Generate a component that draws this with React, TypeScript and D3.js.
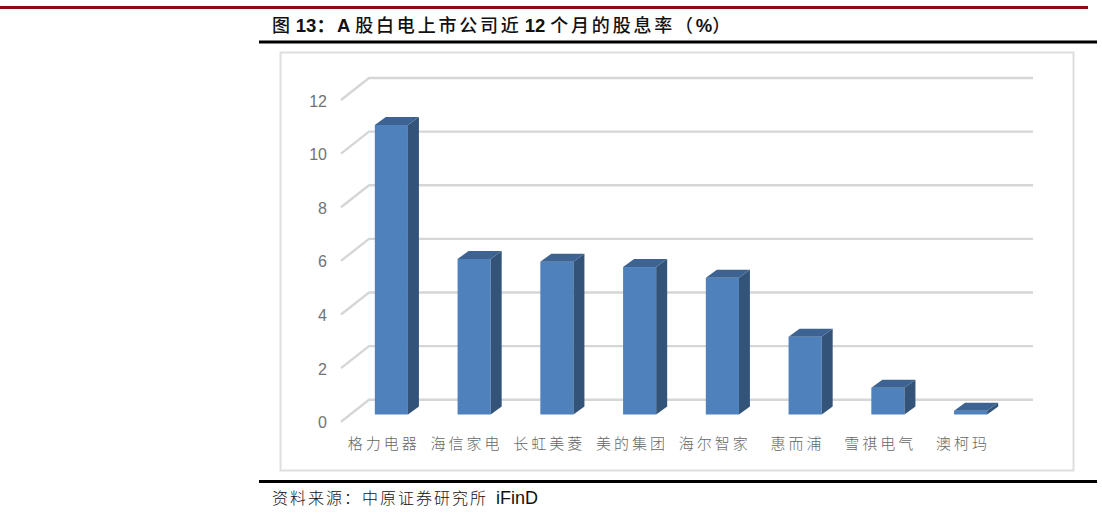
import { useEffect, useRef } from "react";
import * as d3 from "d3";

const categories = ["格力电器", "海信家电", "长虹美菱", "美的集团", "海尔智家", "惠而浦", "雪祺电气", "澳柯玛"];
const dividendYield = [10.8, 5.8, 5.7, 5.5, 5.1, 2.9, 1.0, 0.14];
const yTicks = [0, 2, 4, 6, 8, 10, 12];

const titleParts = [
    { text: "图", cjk: true, dx: 0 },
    { text: "13：", cjk: false, dx: 3 },
    { text: "A", cjk: false, dx: 2 },
    { text: "股白电上市公司近", cjk: true, dx: 5 },
    { text: "12", cjk: false, dx: 3 },
    { text: "个月的股息率（", cjk: true, dx: 5 },
    { text: "%", cjk: false, dx: 0 },
    { text: "）", cjk: true, dx: 0 },
];

const SANS = "'Liberation Sans', 'Noto Sans CJK SC', sans-serif";
const CJK = "'Noto Sans CJK SC', sans-serif";

export default function App() {
    const ref = useRef<SVGSVGElement | null>(null);

    useEffect(() => {
        const svg = d3.select(ref.current);
        svg.selectAll("*").remove();

        // page rules
        const rule = (x1: number, x2: number, y: number, color: string, w: number) =>
            svg.append("line").attr("x1", x1).attr("x2", x2).attr("y1", y).attr("y2", y)
                .attr("stroke", color).attr("stroke-width", w);
        rule(0, 1088, 7.5, "#8e0b0b", 3);
        rule(259, 1097, 42, "#000000", 3);
        rule(259, 1097, 481.5, "#000000", 3);

        // title
        const title = svg.append("text")
            .attr("x", 272).attr("y", 32)
            .attr("font-size", 18).attr("font-weight", "bold")
            .attr("font-family", SANS).attr("fill", "#111");
        titleParts.forEach((p) => {
            title.append("tspan").text(p.text)
                .attr("dx", p.dx)
                .attr("font-family", p.cjk ? CJK : SANS)
                .attr("font-size", p.cjk ? 18 : 18.5)
                .attr("font-weight", p.cjk ? 500 : "bold")
                .attr("letter-spacing", p.cjk ? 2.8 : 0);
        });

        // chart frame
        svg.append("rect")
            .attr("x", 280.5).attr("y", 52.5).attr("width", 793).attr("height", 418)
            .attr("fill", "#fff").attr("stroke", "#dedede").attr("stroke-width", 2);

        const y = d3.scaleLinear().domain([0, 12]).range([421.7, 100]);
        const x = d3.scaleBand<string>().domain(categories).range([350, 1012])
            .paddingInner(0.6).paddingOuter(0.3);

        // 3d offsets: wall behind the front axis, bar depth, bar position on floor
        const wallDx = 28, wallDy = -22;
        const barDx = 11, barDy = -8;
        const floorDy = -7.2;
        const frontX = 341, wallRight = 1033;

        // gridlines + tick stubs
        const grid = svg.append("g");
        grid.selectAll("path").data(yTicks).enter().append("path")
            .attr("d", (d) => `M${frontX},${y(d)}L${frontX + wallDx},${y(d) + wallDy}L${wallRight},${y(d) + wallDy}`)
            .attr("fill", "none").attr("stroke", "#d6d6d6").attr("stroke-width", 2.4);

        // y labels
        svg.append("g").selectAll("text").data(yTicks).enter().append("text")
            .attr("x", 327).attr("y", (d) => y(d) + 0.8).attr("dy", "0.36em")
            .attr("text-anchor", "end")
            .attr("font-family", SANS).attr("font-size", 16).attr("fill", "#737373")
            .text((d) => d);

        // bars
        const bars = svg.append("g").selectAll("g")
            .data(categories.map((c, i) => ({ c, v: dividendYield[i] })))
            .enter().append("g");
        const bw = x.bandwidth();
        const base = y(0) + floorDy;
        const top = (v: number) => y(v) + floorDy;

        bars.append("rect")
            .attr("x", (d) => x(d.c)!).attr("y", (d) => top(d.v))
            .attr("width", bw).attr("height", (d) => base - top(d.v))
            .attr("fill", "#4f81bd");
        bars.append("path")
            .attr("d", (d) => {
                const r = x(d.c)! + bw;
                return `M${r},${top(d.v)}L${r + barDx},${top(d.v) + barDy}L${r + barDx},${base + barDy}L${r},${base}Z`;
            })
            .attr("fill", "#335379");
        bars.append("path")
            .attr("d", (d) => {
                const l = x(d.c)!;
                return `M${l},${top(d.v)}L${l + barDx},${top(d.v) + barDy}L${l + bw + barDx},${top(d.v) + barDy}L${l + bw},${top(d.v)}Z`;
            })
            .attr("fill", "#3c6391");

        // category labels
        svg.append("g").selectAll("text").data(categories).enter().append("text")
            .attr("x", (d) => x(d)! + bw / 2 - 7.5).attr("y", 449)
            .attr("text-anchor", "middle")
            .attr("font-family", CJK).attr("font-size", 15).attr("font-weight", 300)
            .attr("letter-spacing", 3).attr("fill", "#666")
            .text((d) => d);

        // source
        const src = svg.append("text").attr("x", 272).attr("y", 504)
            .attr("font-size", 16).attr("fill", "#111");
        src.append("tspan").text("资料来源：中原证券研究所").attr("font-family", CJK).attr("font-weight", 300).attr("letter-spacing", 2);
        src.append("tspan").text("iFinD").attr("font-family", SANS).attr("font-size", 18).attr("dx", 8);
    }, []);

    return (
        <svg
            ref={ref}
            width={1102}
            height={513}
            style={{ position: "absolute", left: 0, top: 0, background: "#fff" }}
        />
    );
}
